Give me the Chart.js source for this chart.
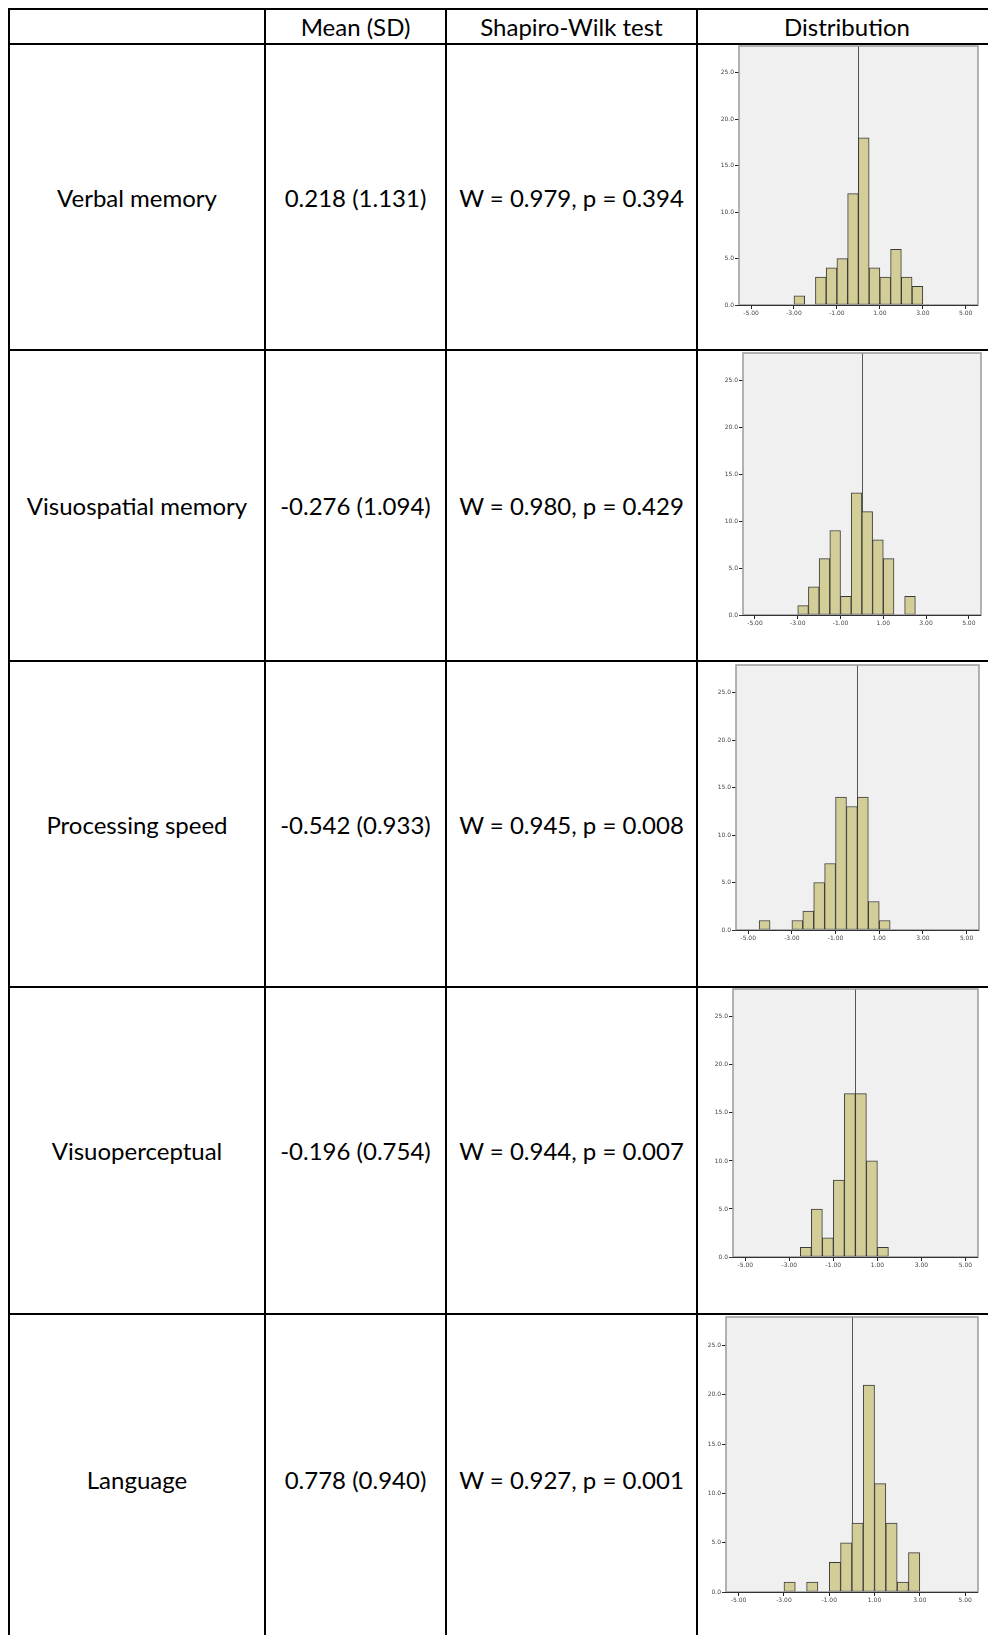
<!DOCTYPE html>
<html lang="en">
<head>
<meta charset="UTF-8">
<title>Cognitive domains - distribution</title>
<script src="https://cdn.jsdelivr.net/npm/chart.js"></script>
<style>
  body { margin: 0; background: #fff; font-family: Lato, "Open Sans", sans-serif; }
  #page { position: relative; width: 988px; height: 1635px; overflow: hidden; }
  .hl { position: absolute; height: 2px; background: #000; }
  .vl { position: absolute; width: 2px; background: #000; }
  .cell { position: absolute; display: flex; align-items: center; justify-content: center;
          font-size: 24px; color: #000; white-space: nowrap; }
  canvas { position: absolute; z-index: 2; }
</style>
</head>
<body>
<div id="page"></div>
<script>
// table text
const header = ["", "Mean (SD)", "Shapiro-Wilk test", "Distribution"];
const domains = ["Verbal memory", "Visuospatial memory", "Processing speed", "Visuoperceptual", "Language"];
const meanSD = ["0.218 (1.131)", "-0.276 (1.094)", "-0.542 (0.933)", "-0.196 (0.754)", "0.778 (0.940)"];
const shapiro = ["W = 0.979, p = 0.394", "W = 0.980, p = 0.429", "W = 0.945, p = 0.008",
                 "W = 0.944, p = 0.007", "W = 0.927, p = 0.001"];

// histograms: left edge of each 0.5 wide bin, counts per domain
const binWidth = 0.5;
const binStarts = [-4.5, -4.0, -3.5, -3.0, -2.5, -2.0, -1.5, -1.0, -0.5, 0.0, 0.5, 1.0, 1.5, 2.0, 2.5];
const verbalCounts          = [0, 0, 0, 1, 0, 3, 4, 5, 12, 18, 4, 3, 6, 3, 2];
const visuospatialCounts    = [0, 0, 0, 1, 3, 6, 9, 2, 13, 11, 8, 6, 0, 2, 0];
const processingCounts      = [1, 0, 0, 1, 2, 5, 7, 14, 13, 14, 3, 1, 0, 0, 0];
const visuoperceptualCounts = [0, 0, 0, 0, 1, 5, 2, 8, 17, 17, 10, 1, 0, 0, 0];
const languageCounts        = [0, 0, 0, 1, 0, 1, 0, 3, 5, 7, 21, 11, 7, 1, 4];
const allCounts = [verbalCounts, visuospatialCounts, processingCounts, visuoperceptualCounts, languageCounts];

// axes of the histograms
const xMin = -5.56, xMax = 5.57, yMax = 27.9;
const xTicks = [-5, -3, -1, 1, 3, 5];
const yTicks = [0, 5, 10, 15, 20, 25];
const refValue = 0;

// table geometry (pixels)
const rowLines = [8, 43, 349, 660, 986, 1313, 1644];
const colLines = [8, 264, 445, 696, 996];
// plot frames of each histogram, page coordinates
const frames = [
  { l: 739, r: 978, t: 46, b: 305 },
  { l: 743, r: 981, t: 353, b: 615 },
  { l: 736, r: 979, t: 665, b: 930 },
  { l: 733, r: 978, t: 989, b: 1257 },
  { l: 726, r: 978, t: 1317, b: 1592 }
];

const page = document.getElementById("page");

function addDiv(cls, style, text) {
  const d = document.createElement("div");
  d.className = cls;
  Object.assign(d.style, style);
  if (text) d.textContent = text;
  page.appendChild(d);
  return d;
}

// grid lines of the table
rowLines.slice(0, 6).forEach(y => addDiv("hl", { left: "8px", top: y + "px", width: "1000px" }));
colLines.slice(0, 4).forEach(x => addDiv("vl", { left: x + "px", top: "8px", height: "1640px" }));

function cell(col, row, text) {
  const left = colLines[col] + 2, right = colLines[col + 1];
  const top = rowLines[row] + 2, bottom = rowLines[row + 1];
  addDiv("cell", { left: left + "px", width: (right - left) + "px",
                   top: top + "px", height: (bottom - top) + "px" }, text);
}

header.forEach((h, c) => { if (h) cell(c, 0, h); });
domains.forEach((d, i) => {
  cell(0, i + 1, d);
  cell(1, i + 1, meanSD[i]);
  cell(2, i + 1, shapiro[i]);
});

const plotFrame = {
  id: "plotFrame",
  beforeDraw(chart) {
    const { ctx, chartArea: a } = chart;
    ctx.save();
    ctx.fillStyle = "#f0f0f0";
    ctx.fillRect(a.left, a.top, a.width, a.height);
    ctx.restore();
  },
  beforeDatasetsDraw(chart) {
    const { ctx, chartArea: a } = chart;
    const x = Math.round(chart.scales.x.getPixelForValue(refValue)) + 0.5;
    ctx.save();
    ctx.strokeStyle = "#555";
    ctx.lineWidth = 1;
    ctx.beginPath();
    ctx.moveTo(x, a.top);
    ctx.lineTo(x, a.bottom);
    ctx.stroke();
    ctx.restore();
  },
  afterDraw(chart) {
    const { ctx, chartArea: a } = chart;
    ctx.save();
    ctx.strokeStyle = "#9a9a9a";
    ctx.lineWidth = 1.5;
    ctx.strokeRect(a.left, a.top, a.width, a.height);
    ctx.strokeStyle = "#333";
    ctx.lineWidth = 1;
    ctx.beginPath();
    ctx.moveTo(a.left - 4, Math.round(a.bottom) + 0.5);
    ctx.lineTo(a.right, Math.round(a.bottom) + 0.5);
    ctx.stroke();
    ctx.restore();
  }
};

const canvasLeft = 698, canvasWidth = 290, xAxisH = 22, topSpare = 12;

allCounts.forEach((counts, i) => {
  const f = frames[i];
  const top = f.t - topSpare;
  const bottom = Math.min(rowLines[i + 2], 1635);
  const cv = document.createElement("canvas");
  cv.width = canvasWidth;
  cv.height = bottom - top;
  cv.style.left = canvasLeft + "px";
  cv.style.top = top + "px";
  page.appendChild(cv);

  const data = [];
  binStarts.forEach((s, k) => {
    if (counts[k] > 0) data.push({ x: s + binWidth / 2, y: counts[k] });
  });

  new Chart(cv.getContext("2d"), {
    type: "bar",
    data: {
      datasets: [{
        data,
        backgroundColor: "#d3ce97",
        borderColor: "#3a3a3a",
        borderWidth: 1,
        borderSkipped: false,
        barPercentage: 1,
        categoryPercentage: 1
      }]
    },
    options: {
      responsive: false,
      animation: false,
      layout: {
        padding: {
          left: 0,
          top: topSpare,
          right: canvasLeft + canvasWidth - f.r,
          bottom: (bottom - top) - (f.b - top) - xAxisH
        }
      },
      plugins: { legend: { display: false }, tooltip: { enabled: false } },
      scales: {
        x: {
          type: "linear",
          min: xMin,
          max: xMax,
          offset: false,
          afterBuildTicks: s => { s.ticks = xTicks.map(v => ({ value: v })); },
          afterFit: s => { s.height = xAxisH; },
          ticks: {
            callback: v => Number(v).toFixed(2),
            font: { size: 6, family: "DejaVu Sans" },
            color: "#444",
            padding: 1,
            maxRotation: 0,
            autoSkip: false
          },
          grid: { drawOnChartArea: false, offset: false, tickLength: 4, color: "#222" },
          border: { display: false }
        },
        y: {
          min: 0,
          max: yMax,
          afterBuildTicks: s => { s.ticks = yTicks.map(v => ({ value: v })); },
          afterFit: s => { s.width = f.l - canvasLeft; },
          ticks: {
            callback: v => Number(v).toFixed(1),
            font: { size: 6, family: "DejaVu Sans" },
            color: "#444",
            padding: 1
          },
          grid: { drawOnChartArea: false, tickLength: 4, color: "#222" },
          border: { display: false }
        }
      }
    },
    plugins: [plotFrame]
  });
});
</script>
</body>
</html>
